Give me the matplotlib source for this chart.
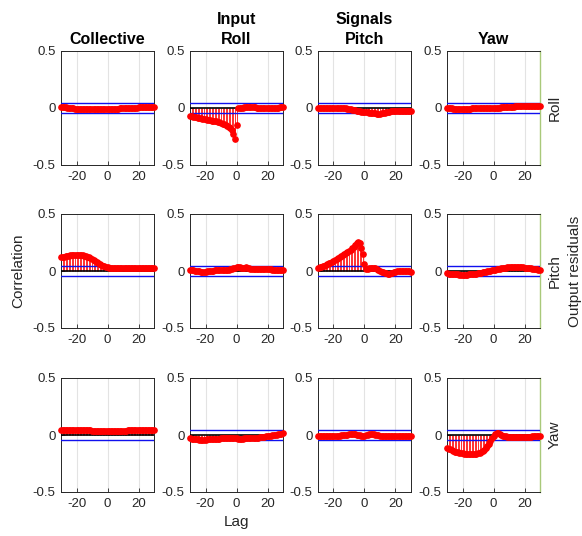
import numpy as np
import matplotlib.pyplot as plt

plt.rcParams['font.family'] = ['Liberation Sans', 'DejaVu Sans']

lags = np.arange(-30, 31)
inputs = ["Collective", "Input\nRoll", "Signals\nPitch", "Yaw"]
outputs = ["Roll", "Pitch", "Yaw"]
conf = 0.04

# cross-correlation of output residuals with each input, lag -30..30
roll_collective = [
    0.012, 0.010, 0.008, 0.006, 0.004, 0.002, 0.000, -0.002, -0.004, -0.005,
    -0.006, -0.007, -0.008, -0.009, -0.010, -0.010, -0.011, -0.011, -0.012, -0.012,
    -0.012, -0.012, -0.012, -0.012, -0.012, -0.011, -0.011, -0.010, -0.010, -0.010,
    -0.009, -0.009, -0.008, -0.008, -0.007, -0.006, -0.006, -0.005, -0.004, -0.003,
    -0.002, -0.001, 0.000, 0.001, 0.002, 0.002, 0.003, 0.003, 0.004, 0.004,
    0.005, 0.005, 0.005, 0.006, 0.006, 0.006, 0.007, 0.007, 0.007, 0.008, 0.008]
roll_roll = [
    -0.070, -0.072, -0.075, -0.078, -0.081, -0.084, -0.087, -0.090, -0.093, -0.096,
    -0.099, -0.102, -0.105, -0.107, -0.110, -0.112, -0.115, -0.118, -0.121, -0.125,
    -0.130, -0.136, -0.143, -0.150, -0.158, -0.167, -0.178, -0.195, -0.225, -0.270,
    -0.150, 0.002, 0.003, 0.004, 0.004, 0.005, 0.005, 0.006, 0.006, 0.006,
    0.006, 0.005, 0.005, 0.004, 0.004, 0.003, 0.003, 0.003, 0.002, 0.002,
    0.002, 0.002, 0.002, 0.002, 0.002, 0.003, 0.003, 0.004, 0.005, 0.006, 0.008]
roll_pitch = [
    0.000, 0.002, 0.003, 0.004, 0.004, 0.003, 0.002, 0.001, 0.000, -0.001,
    -0.002, -0.002, -0.002, -0.001, 0.000, 0.000, -0.001, -0.002, -0.004, -0.006,
    -0.008, -0.011, -0.014, -0.017, -0.020, -0.023, -0.026, -0.029, -0.031, -0.033,
    -0.035, -0.037, -0.039, -0.041, -0.043, -0.045, -0.047, -0.048, -0.049, -0.050,
    -0.050, -0.048, -0.045, -0.042, -0.038, -0.035, -0.032, -0.030, -0.028, -0.027,
    -0.026, -0.025, -0.025, -0.024, -0.024, -0.024, -0.024, -0.024, -0.023, -0.023, -0.022]
roll_yaw = [
    -0.002, -0.003, -0.004, -0.004, -0.005, -0.005, -0.005, -0.005, -0.005, -0.005,
    -0.005, -0.005, -0.005, -0.005, -0.005, -0.005, -0.004, -0.004, -0.004, -0.003,
    -0.003, -0.003, -0.002, -0.002, -0.002, -0.001, -0.001, 0.000, 0.000, 0.001,
    0.001, 0.002, 0.002, 0.003, 0.004, 0.005, 0.006, 0.007, 0.008, 0.009,
    0.010, 0.011, 0.012, 0.013, 0.014, 0.015, 0.016, 0.016, 0.017, 0.017,
    0.018, 0.018, 0.018, 0.018, 0.017, 0.017, 0.016, 0.016, 0.015, 0.015, 0.014]

pitch_collective = [
    0.120, 0.122, 0.125, 0.128, 0.131, 0.134, 0.136, 0.138, 0.140, 0.141,
    0.142, 0.142, 0.141, 0.140, 0.138, 0.135, 0.131, 0.126, 0.120, 0.113,
    0.105, 0.097, 0.088, 0.079, 0.070, 0.061, 0.053, 0.046, 0.040, 0.035,
    0.031, 0.028, 0.026, 0.025, 0.024, 0.023, 0.023, 0.022, 0.022, 0.022,
    0.022, 0.022, 0.022, 0.022, 0.022, 0.022, 0.022, 0.022, 0.023, 0.023,
    0.023, 0.023, 0.023, 0.024, 0.024, 0.024, 0.024, 0.025, 0.025, 0.025, 0.025]
pitch_roll = [
    0.010, 0.008, 0.005, 0.002, 0.000, -0.002, -0.004, -0.005, -0.006, -0.006,
    -0.005, -0.004, -0.002, 0.000, 0.002, 0.004, 0.006, 0.007, 0.008, 0.009,
    0.010, 0.010, 0.011, 0.011, 0.012, 0.013, 0.015, 0.018, 0.022, 0.027,
    0.035, 0.038, 0.036, 0.030, 0.028, 0.030, 0.032, 0.030, 0.025, 0.020,
    0.017, 0.015, 0.014, 0.014, 0.014, 0.015, 0.016, 0.017, 0.017, 0.017,
    0.016, 0.015, 0.014, 0.013, 0.012, 0.011, 0.010, 0.009, 0.008, 0.007, 0.006]
pitch_pitch = [
    0.030, 0.032, 0.035, 0.040, 0.046, 0.053, 0.060, 0.067, 0.074, 0.083,
    0.092, 0.100, 0.108, 0.116, 0.124, 0.132, 0.140, 0.148, 0.157, 0.166,
    0.176, 0.187, 0.199, 0.212, 0.226, 0.242, 0.255, 0.248, 0.205, 0.150,
    0.065, 0.018, 0.015, 0.022, 0.028, 0.030, 0.028, 0.022, 0.015, 0.008,
    0.001, -0.006, -0.012, -0.017, -0.020, -0.022, -0.022, -0.020, -0.016, -0.012,
    -0.008, -0.004, -0.001, 0.002, 0.004, 0.004, 0.002, 0.000, -0.002, -0.004, -0.005]
pitch_yaw = [
    -0.020, -0.022, -0.024, -0.025, -0.027, -0.028, -0.029, -0.030, -0.031, -0.031,
    -0.032, -0.032, -0.032, -0.031, -0.030, -0.029, -0.028, -0.026, -0.024, -0.022,
    -0.020, -0.018, -0.015, -0.012, -0.009, -0.006, -0.003, 0.000, 0.003, 0.006,
    0.009, 0.012, 0.015, 0.018, 0.021, 0.024, 0.026, 0.028, 0.030, 0.032,
    0.033, 0.034, 0.035, 0.035, 0.035, 0.035, 0.034, 0.033, 0.032, 0.031,
    0.030, 0.028, 0.026, 0.024, 0.022, 0.020, 0.018, 0.016, 0.014, 0.012, 0.010]

yaw_collective = [
    0.045, 0.045, 0.044, 0.044, 0.043, 0.043, 0.043, 0.042, 0.042, 0.042,
    0.042, 0.041, 0.041, 0.041, 0.041, 0.040, 0.040, 0.040, 0.040, 0.040,
    0.039, 0.039, 0.039, 0.039, 0.039, 0.039, 0.039, 0.039, 0.038, 0.038,
    0.038, 0.038, 0.038, 0.038, 0.038, 0.038, 0.038, 0.039, 0.039, 0.039,
    0.039, 0.039, 0.039, 0.040, 0.040, 0.040, 0.040, 0.041, 0.041, 0.041,
    0.041, 0.042, 0.042, 0.042, 0.042, 0.043, 0.043, 0.043, 0.044, 0.044, 0.044]
yaw_roll = [
    -0.030, -0.032, -0.034, -0.036, -0.038, -0.039, -0.040, -0.041, -0.041, -0.041,
    -0.040, -0.039, -0.038, -0.037, -0.036, -0.035, -0.034, -0.033, -0.032, -0.031,
    -0.030, -0.029, -0.028, -0.027, -0.026, -0.025, -0.024, -0.023, -0.022, -0.022,
    -0.025, -0.032, -0.038, -0.036, -0.031, -0.028, -0.027, -0.027, -0.027, -0.027,
    -0.027, -0.026, -0.025, -0.024, -0.022, -0.020, -0.018, -0.016, -0.014, -0.012,
    -0.010, -0.008, -0.006, -0.004, -0.002, 0.000, 0.003, 0.006, 0.009, 0.012, 0.016]
yaw_pitch = [
    -0.008, -0.008, -0.008, -0.007, -0.007, -0.007, -0.007, -0.007, -0.007, -0.007,
    -0.007, -0.007, -0.006, -0.006, -0.005, -0.004, -0.003, -0.001, 0.001, 0.003,
    0.006, 0.008, 0.009, 0.008, 0.006, 0.003, 0.000, -0.003, -0.005, -0.006,
    -0.006, -0.004, 0.000, 0.005, 0.009, 0.010, 0.008, 0.004, 0.000, -0.003,
    -0.005, -0.006, -0.007, -0.007, -0.007, -0.007, -0.007, -0.007, -0.007, -0.006,
    -0.006, -0.006, -0.006, -0.006, -0.006, -0.006, -0.006, -0.006, -0.006, -0.006, -0.006]
yaw_yaw = [
    -0.110, -0.119, -0.127, -0.134, -0.140, -0.145, -0.149, -0.153, -0.156, -0.159,
    -0.161, -0.163, -0.165, -0.166, -0.167, -0.168, -0.168, -0.167, -0.166, -0.164,
    -0.161, -0.156, -0.150, -0.141, -0.130, -0.116, -0.098, -0.077, -0.053, -0.028,
    -0.005, 0.012, 0.018, 0.014, 0.006, -0.001, -0.006, -0.010, -0.012, -0.014,
    -0.015, -0.016, -0.017, -0.018, -0.019, -0.019, -0.020, -0.020, -0.020, -0.019,
    -0.018, -0.017, -0.016, -0.015, -0.014, -0.013, -0.012, -0.011, -0.011, -0.010, -0.010]

xcorr = [
    [roll_collective, roll_roll, roll_pitch, roll_yaw],
    [pitch_collective, pitch_roll, pitch_pitch, pitch_yaw],
    [yaw_collective, yaw_roll, yaw_pitch, yaw_yaw],
]

W, H = 582, 536
fig = plt.figure(figsize=(W / 100, H / 100), dpi=100)

col_left = [61, 190, 318, 447]
row_top = [51, 214, 378]
ax_w, ax_h = 93, 114
grey = (0.15, 0.15, 0.15)

for r in range(3):
    for c in range(4):
        ax = fig.add_axes([col_left[c] / W, 1 - (row_top[r] + ax_h) / H, ax_w / W, ax_h / H])
        vals = np.array(xcorr[r][c])
        ax.vlines(lags, 0, vals, color='#ff3030', lw=0.7, zorder=2)
        ax.axhline(0, color='k', lw=1.2, zorder=3)
        ax.axhline(conf, color='#1010ee', lw=1.0, zorder=4)
        ax.axhline(-conf, color='#1010ee', lw=1.0, zorder=4)
        ax.plot(lags, vals, 'o', color='red', ms=3.8, mec='red', zorder=5, clip_on=False)
        ax.set_xlim(-30, 30)
        ax.set_ylim(-0.5, 0.5)
        ax.set_xticks([-20, 0, 20])
        ax.set_yticks([-0.5, 0, 0.5])
        ax.set_yticklabels(['-0.5', '0', '0.5'])
        ax.set_xticklabels(['-20', '0', '20'])
        ax.grid(axis='x', color='#e3e3e3', lw=0.8, zorder=0)
        ax.tick_params(direction='in', length=3, width=0.6, colors=grey,
                       labelsize=9.5, labelcolor=grey, pad=4)
        for s in ax.spines.values():
            s.set_color(grey)
            s.set_linewidth(0.7)
        if c == 3:
            ax.spines['right'].set_color('#a9c97a')
            ax.spines['right'].set_linewidth(1.0)
        if r == 0:
            ax.set_title(inputs[c], fontsize=11.5, fontweight='bold', pad=5, linespacing=1.45)

for r, name in enumerate(outputs):
    yc = 1 - (row_top[r] + ax_h / 2) / H
    fig.text(555 / W, yc, name, rotation=90, ha='center', va='center', fontsize=11, color=grey)

fig.text(575 / W, 1 - 271 / H, 'Output residuals', rotation=90, ha='center', va='center',
         fontsize=11, color=grey)
fig.text(18 / W, 1 - 271 / H, 'Correlation', rotation=90, ha='center', va='center',
         fontsize=11, color=grey)
fig.text((col_left[1] + ax_w / 2) / W, 1 - 522 / H, 'Lag', ha='center', va='center',
         fontsize=11, color=grey)

fig.savefig('out.png', dpi=100)
